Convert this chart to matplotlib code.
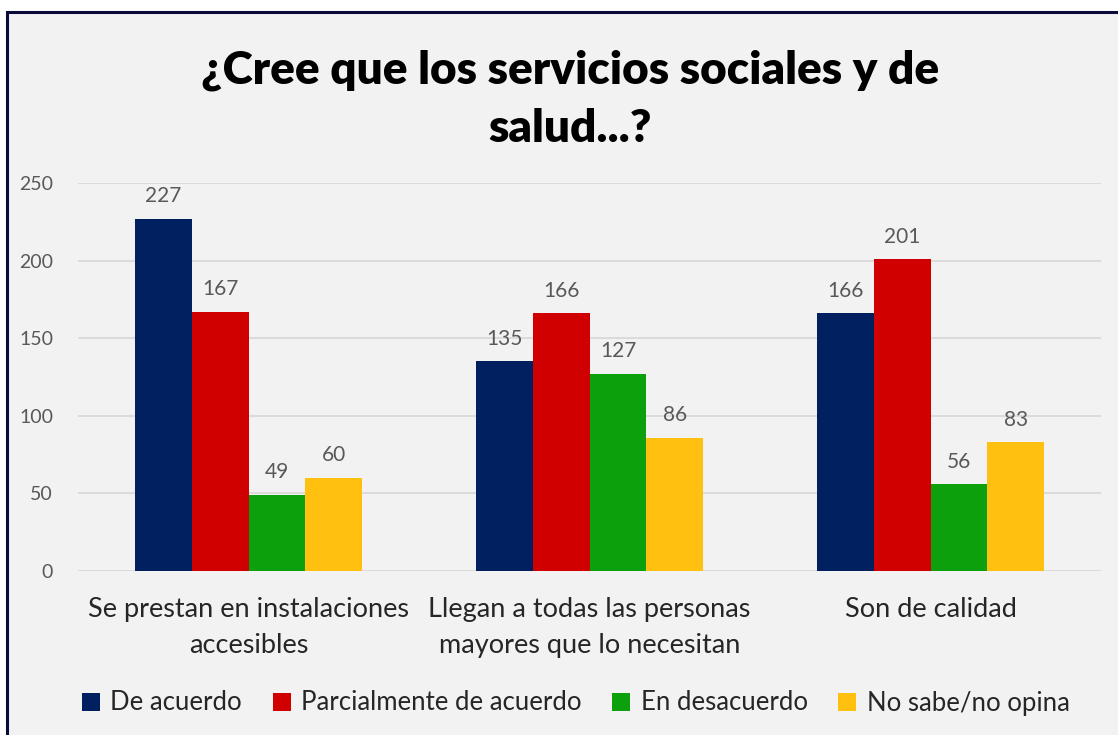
import matplotlib.pyplot as plt
import numpy as np
from matplotlib.patches import Rectangle

categorias = ['Se prestan en instalaciones\naccesibles',
              'Llegan a todas las personas\nmayores que lo necesitan',
              'Son de calidad']
series = ['De acuerdo', 'Parcialmente de acuerdo', 'En desacuerdo', 'No sabe/no opina']
de_acuerdo = [227, 135, 166]
parcial = [167, 166, 201]
desacuerdo = [49, 127, 56]
no_sabe = [60, 86, 83]
colores = ['#002060', '#d00000', '#0ca00c', '#ffc010']

plt.rcParams['font.family'] = ['Lato', 'DejaVu Sans']

fig = plt.figure(figsize=(11.18, 7.35), dpi=100)
fig.patch.set_facecolor('white')
# marco del grafico
fig.patches.append(Rectangle((7/1118, -0.01), 1.02, 1 - 12/735 + 0.01,
                             transform=fig.transFigure, facecolor='#f2f2f2',
                             edgecolor='#0b0b3b', linewidth=2.2, zorder=-1))

ax = fig.add_axes([78/1118, 1 - 571/735, (1101 - 78)/1118, (571 - 183)/735])
ax.set_facecolor('none')

x = np.arange(len(categorias))
w = 0.167
datos = [de_acuerdo, parcial, desacuerdo, no_sabe]
for i, (vals, nombre, c) in enumerate(zip(datos, series, colores)):
    barras = ax.bar(x + (i - 1.5) * w, vals, w, color=c, label=nombre, zorder=3)
    ax.bar_label(barras, padding=9, fontsize=15, color='#595959')

ax.set_xlim(-0.5, 2.5)
ax.set_ylim(0, 250)
ax.set_yticks(range(0, 251, 50))
ax.grid(axis='y', color='#d9d9d9', linewidth=1.3, zorder=0)
for s in ax.spines.values():
    s.set_visible(False)
ax.tick_params(axis='y', length=0, labelsize=14, labelcolor='#595959', pad=18)
ax.tick_params(axis='x', length=0, labelsize=19.5, labelcolor='#262626', pad=19)
ax.set_xticks(x)
ax.set_xticklabels(categorias, linespacing=1.55)

fig.text(0.51, 0.865, '¿Cree que los servicios sociales y de\nsalud...?', ha='center', va='center',
         fontsize=33, fontweight='heavy', linespacing=1.5)

fig.legend(loc='center', bbox_to_anchor=(0.515, 1 - 703/735), ncol=4, frameon=False,
           fontsize=18.5, handlelength=0.7, handleheight=0.7, handletextpad=0.4,
           columnspacing=1.2, labelcolor='#262626')

fig.savefig('out.png', dpi=100, facecolor=fig.get_facecolor())
